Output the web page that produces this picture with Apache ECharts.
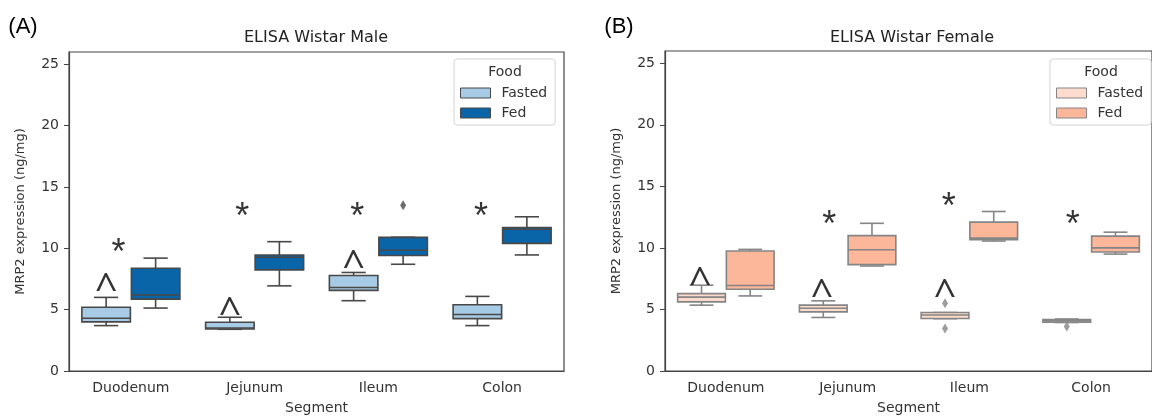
<!DOCTYPE html>
<html>
<head>
<meta charset="utf-8">
<title>ELISA Wistar MRP2</title>
<script src="https://cdn.jsdelivr.net/npm/echarts@6/dist/echarts.min.js"></script>
<style>
  html, body { margin: 0; padding: 0; background: #fff; }
  #chart { width: 1152px; height: 420px; }
</style>
</head>
<body>
<div id="chart"></div>
<script>
// x categories and y ticks
const segments = ['Duodenum', 'Jejunum', 'Ileum', 'Colon'];
const yTicks = [0, 5, 10, 15, 20, 25];

// box summaries per segment: [low whisker, q1, median, q3, high whisker]
const maleFasted = [[3.7, 4.0, 4.3, 5.2, 6.0], [3.4, 3.42, 3.5, 3.97, 4.38], [5.73, 6.57, 6.81, 7.78, 8.03], [3.7, 4.27, 4.6, 5.4, 6.08]];
const maleFed = [[5.13, 5.86, 6.2, 8.38, 9.2], [6.94, 8.24, 9.27, 9.46, 10.54], [8.7, 9.41, 9.84, 10.89, 10.9], [9.46, 10.4, 11.55, 11.7, 12.57]];
const femaleFasted = [[5.35, 5.62, 6.0, 6.29, 6.97], [4.35, 4.8, 5.1, 5.35, 5.7], [4.25, 4.27, 4.55, 4.75, 4.75], [3.94, 3.97, 4.08, 4.18, 4.22]];
const femaleFed = [[6.1, 6.64, 6.95, 9.75, 9.88], [8.53, 8.64, 9.85, 11.0, 12.0], [10.56, 10.66, 10.8, 12.1, 12.96], [9.5, 9.67, 10.0, 10.96, 11.28]];

// outliers: [segment index, value]
const maleFedOutliers = [[2, 13.5]];
const femaleFastedOutliers = [[2, 5.5], [2, 3.45], [3, 3.62]];

// significance marks: [segment index, x shift, y value]
const maleCaret = [[0, -0.2, 7.43], [1, -0.2, 5.46], [2, -0.2, 9.33]];
const maleStar = [[0, -0.1, 10.3], [1, -0.1, 13.2], [2, -0.17, 13.2], [3, -0.17, 13.2]];
const femaleCaret = [[0, -0.21, 7.9], [1, -0.21, 6.97], [2, -0.2, 6.97]];
const femaleStar = [[1, -0.15, 12.5], [2, -0.17, 13.93], [3, -0.15, 12.5]];

const HUE_SHIFT = 0.2;
const BOX_W = 0.392;
const FONT = 'DejaVu Sans';

const panels = [
  { title: 'ELISA Wistar Male', tag: '(A)', fasted: maleFasted, fed: maleFed,
    outliers: [], fedOutliers: maleFedOutliers, caret: maleCaret, star: maleStar,
    colors: ['#a7cbe4', '#0965a7'], line: '#484848',
    grid: { left: 69, right: 588, top: 52, bottom: 47 },
    legendLeft: 454, tagX: 23, titleX: 316 },
  { title: 'ELISA Wistar Female', tag: '(B)', fasted: femaleFasted, fed: femaleFed,
    outliers: femaleFastedOutliers, fedOutliers: [], caret: femaleCaret, star: femaleStar,
    colors: ['#fddccd', '#fcb699'], line: '#858585',
    grid: { left: 665, right: -8, top: 51, bottom: 47 },
    legendLeft: 1050, tagX: 619, titleX: 912 }
];

function boxItem(lineColor) {
  return function (params, api) {
    const x = api.value(0);
    const low = api.coord([x, api.value(1)]);
    const q1 = api.coord([x, api.value(2)]);
    const med = api.coord([x, api.value(3)]);
    const q3 = api.coord([x, api.value(4)]);
    const high = api.coord([x, api.value(5)]);
    const w = api.size([BOX_W, 0])[0];
    const cx = low[0];
    const ls = () => ({ stroke: lineColor, lineWidth: 1.6 });
    return {
      type: 'group',
      children: [
        { type: 'line', shape: { x1: cx, y1: low[1], x2: cx, y2: q1[1] }, style: ls() },
        { type: 'line', shape: { x1: cx, y1: q3[1], x2: cx, y2: high[1] }, style: ls() },
        { type: 'line', shape: { x1: cx - w / 4, y1: low[1], x2: cx + w / 4, y2: low[1] }, style: ls() },
        { type: 'line', shape: { x1: cx - w / 4, y1: high[1], x2: cx + w / 4, y2: high[1] }, style: ls() },
        { type: 'rect', shape: { x: cx - w / 2, y: q3[1], width: w, height: q1[1] - q3[1] },
          style: { fill: api.visual('color'), stroke: lineColor, lineWidth: 1.6 } },
        { type: 'line', shape: { x1: cx - w / 2, y1: med[1], x2: cx + w / 2, y2: med[1] }, style: ls() }
      ]
    };
  };
}

const grids = [], xAxes = [], yAxes = [], series = [], legends = [], graphics = [];

panels.forEach(function (p, k) {
  grids.push(Object.assign({ show: true, borderColor: '#444', borderWidth: 1.2 }, p.grid));
  xAxes.push({
    type: 'category', gridIndex: k, data: segments,
    axisLine: { onZero: false, lineStyle: { color: '#444', width: 1.2 } },
    axisTick: { alignWithLabel: true, length: 5, lineStyle: { color: '#444' } },
    axisLabel: { fontFamily: FONT, fontSize: 14, color: '#333', margin: 10 },
    name: 'Segment', nameLocation: 'middle', nameGap: 30,
    nameTextStyle: { fontFamily: FONT, fontSize: 14, color: '#333' }
  });
  xAxes.push({ type: 'value', gridIndex: k, min: -0.5, max: 3.5, show: false });
  yAxes.push({
    type: 'value', gridIndex: k, min: 0, max: 26, interval: 5,
    axisLine: { show: true, onZero: false, lineStyle: { color: '#444', width: 1.2 } },
    axisTick: { show: true, length: 5, customValues: yTicks, lineStyle: { color: '#444' } },
    axisLabel: { customValues: yTicks, fontFamily: FONT, fontSize: 14, color: '#333', margin: 10 },
    splitLine: { show: false },
    name: 'MRP2 expression (ng/mg)', nameLocation: 'middle', nameGap: 42,
    nameTextStyle: { fontFamily: FONT, fontSize: 13, color: '#333' }
  });
  const xv = 2 * k + 1;
  [['Fasted', p.fasted, -HUE_SHIFT, 0], ['Fed', p.fed, HUE_SHIFT, 1]].forEach(function (h) {
    series.push({
      name: h[0], type: 'custom', xAxisIndex: xv, yAxisIndex: k,
      itemStyle: { color: p.colors[h[3]] },
      renderItem: boxItem(p.line),
      encode: { x: 0, y: [1, 2, 3, 4, 5] },
      data: h[1].map(function (b, i) { return [i + h[2]].concat(b); }),
      z: 2
    });
  });
  const dots = p.outliers.map(o => [o[0] - HUE_SHIFT, o[1]])
    .concat(p.fedOutliers.map(o => [o[0] + HUE_SHIFT, o[1]]));
  series.push({
    type: 'scatter', xAxisIndex: xv, yAxisIndex: k, symbol: 'diamond', symbolSize: [6, 10],
    itemStyle: { color: p.line }, data: dots, z: 3, silent: true
  });
  [['^', p.caret, 'Open Sans', 40, 11], ['*', p.star, 'Liberation Sans', 36, 9]].forEach(function (m) {
    series.push({
      type: 'scatter', xAxisIndex: xv, yAxisIndex: k, symbolSize: 0, silent: true,
      data: m[1].map(a => [a[0] + a[1], a[2]]),
      label: { show: true, position: 'inside', formatter: m[0], fontFamily: m[2],
        fontSize: m[3], color: '#000', textBorderWidth: 0, offset: [0, m[4]] },
      z: 4
    });
  });
  legends.push({
    left: p.legendLeft, top: 59, orient: 'vertical',
    padding: [27, 8, 5, 6], itemWidth: 30, itemHeight: 10, itemGap: 6,
    borderColor: '#d3d3d3', borderWidth: 1, borderRadius: 3, backgroundColor: '#fff',
    textStyle: { fontFamily: FONT, fontSize: 14, color: '#333', padding: [0, 0, 0, 6] },
    data: ['Fasted', 'Fed'].map((n, i) => ({ name: n, icon: 'rect',
      itemStyle: { color: p.colors[i], borderColor: p.line, borderWidth: 1 } }))
  });
  graphics.push({ type: 'text', x: p.titleX, y: 38, z: 10,
    style: { text: p.title, font: '16px "DejaVu Sans"', fill: '#222', align: 'center', verticalAlign: 'middle' } });
  graphics.push({ type: 'text', x: p.tagX, y: 27, z: 10,
    style: { text: p.tag, font: '22px "Liberation Sans"', fill: '#000', align: 'center', verticalAlign: 'middle' } });
  graphics.push({ type: 'text', x: p.legendLeft + 51, y: 72, z: 10,
    style: { text: 'Food', font: '14px "DejaVu Sans"', fill: '#333', align: 'center', verticalAlign: 'middle' } });
});

const myChart = echarts.init(document.getElementById('chart'));
myChart.setOption({
  animation: false,
  grid: grids,
  xAxis: xAxes,
  yAxis: yAxes,
  legend: legends,
  graphic: graphics,
  series: series
});
window.onresize = function () { myChart.resize(); };
</script>
</body>
</html>
